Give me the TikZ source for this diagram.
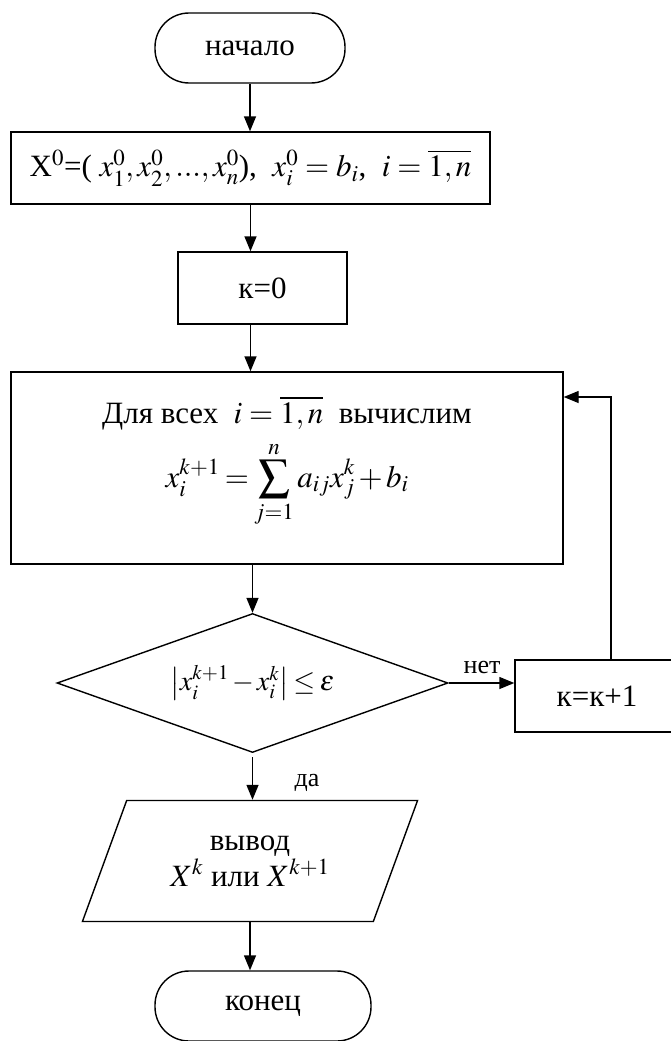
\documentclass[tikz,border=0pt]{standalone}
\usepackage{amsmath}
\usepackage{mathptmx}
\usepackage[no-math]{fontspec}
\setmainfont{Liberation Serif}
\usetikzlibrary{arrows.meta,shapes.geometric}

\begin{document}
\begin{tikzpicture}[x=1pt,y=-1pt,>={Triangle[length=15pt,width=12pt]},line width=1.4pt,
  font=\fontsize{31}{38}\selectfont,
  term/.style={draw,rounded corners=34pt,minimum height=70pt},
  proc/.style={draw,minimum height=72pt},
  dec/.style={draw,diamond,aspect=2.8,inner sep=0pt,minimum width=391pt,minimum height=139pt},
  io/.style={draw,trapezium,trapezium left angle=60.7,trapezium right angle=119.3,
    trapezium stretches,minimum width=336pt,minimum height=121pt,inner sep=0pt,align=center},
  txt/.style={inner sep=1pt},
  tight/.style={execute at begin node={\medmuskip=2mu\thickmuskip=3mu}},
  lbl/.style={inner sep=1pt,font=\fontsize{26}{30}\selectfont}]
\useasboundingbox (0,0) rectangle (670,1041);
\node[term,minimum width=190pt] (start) at (250,48) {начало};
\node[proc,minimum width=479pt] (init) at (250.5,168)
  {X$^0$=( $x_1^0,x_2^0,...,x_n^0$), \ $x_i^0=b_i$, \ $i=\overline{1,n}$};
\node[proc,minimum width=169pt] (k0) at (262.5,288) {к=0};
\node[proc,minimum width=552pt,minimum height=192pt] (calc) at (287,468) {};
\node[txt] (calcl1) at (287,413) {Для всех \ $i=\overline{1,n}$ \ вычислим};
\node[txt,tight] (calcl2) at (287,484) {$\displaystyle x_i^{k+1}=\sum_{j=1}^{n}a_{ij}x_j^k+b_i$};
\node[dec,tight] (test) at (252.5,683) {\fontsize{28}{34}\selectfont$\left|x_i^{k+1}-x_i^k\right|\le\varepsilon$};
\node[proc,minimum width=164pt] (inc) at (597,696) {к=к+1};
\node[io] (out) at (250,861) {вывод\\[-2pt] $X^k$ или $X^{k+1}$};
\node[term,minimum width=216pt] (stop) at (263,1006) {конец};
\node[lbl] (no) at (482,667) {нет};
\node[lbl] (yes) at (307,783) {да};
\coordinate (fb) at (611,397);
% connectors
\draw[->] (start.south) -- (start.south |- init.north);
\draw[->] (init.south) -- (init.south |- k0.north);
\draw[->] (k0.south -| init.south) -- (calc.north -| init.south);
\draw[->] (calc.south -| test.north) -- (test.north);
\draw[->] (test.east) -- (test.east -| inc.west);
\draw[->] (inc.north -| fb) |- (calc.east |- fb);
\draw[->,shorten <=4pt] (test.south) -- (test.south |- out.north);
\draw[->] (out.south) -- (out.south |- stop.north);
\end{tikzpicture}
\end{document}
